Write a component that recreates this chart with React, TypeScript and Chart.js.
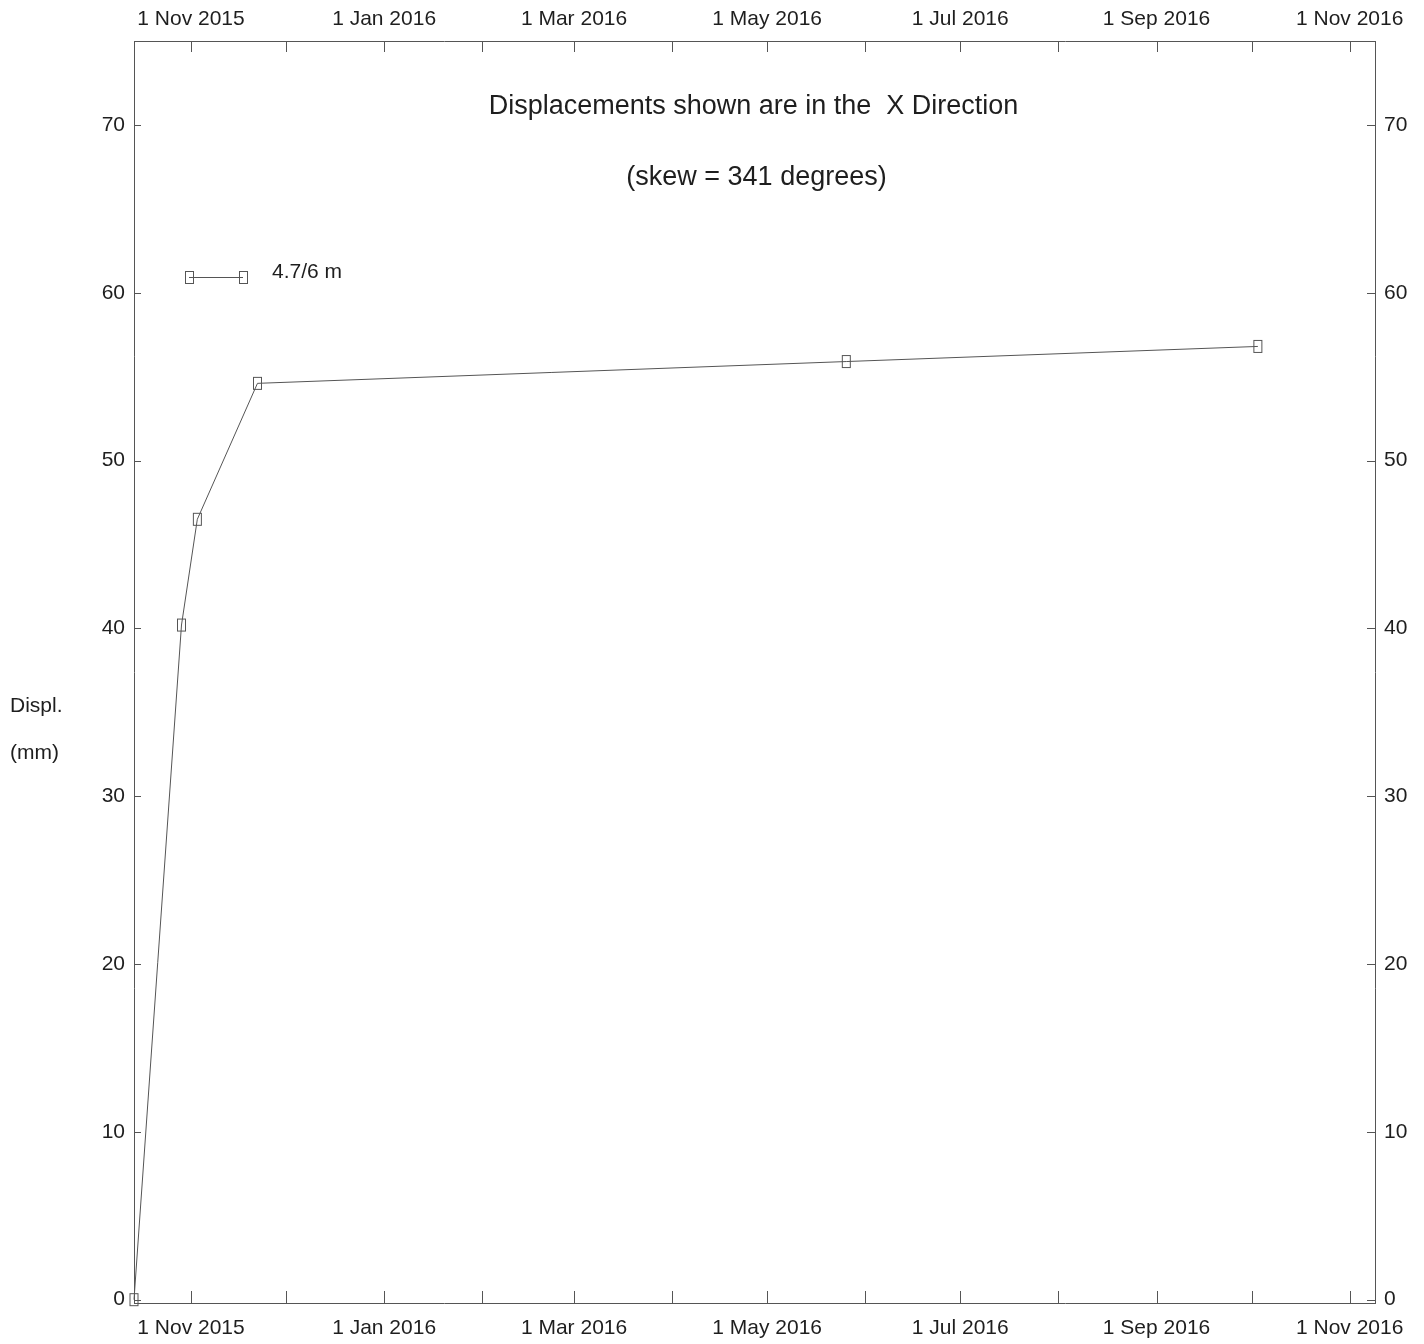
import React, { useEffect, useRef } from "react";
import { Chart, registerables } from "chart.js";

Chart.register(...registerables);

// ---- data ----
const dates: string[] = ["2015-10-14", "2015-10-29", "2015-11-03", "2015-11-22", "2016-05-26", "2016-10-03"];
const displacements: number[] = [0, 40.2, 46.5, 54.6, 55.9, 56.8];
const seriesLabel = "4.7/6 m";
const xMinDate = "2015-10-14";
const xMaxDate = "2016-11-09";
const monthTickDates: string[] = [
  "2015-11-01", "2015-12-01", "2016-01-01", "2016-02-01", "2016-03-01", "2016-04-01",
  "2016-05-01", "2016-06-01", "2016-07-01", "2016-08-01", "2016-09-01", "2016-10-01", "2016-11-01",
];
const yTickValues: number[] = [0, 10, 20, 30, 40, 50, 60, 70];
const yMin = -0.2;
const yMax = 75;
const titleLine1 = "Displacements shown are in the  X Direction";
const titleLine2 = "(skew = 341 degrees)";
const yLabelLine1 = "Displ.";
const yLabelLine2 = "(mm)";
const monthNames = ["Jan", "Feb", "Mar", "Apr", "May", "Jun", "Jul", "Aug", "Sep", "Oct", "Nov", "Dec"];

const DAY = 86400000;
const toDays = (s: string) => Date.parse(s + "T00:00:00Z") / DAY;

const FONT = "'Liberation Sans', Arial, Helvetica, sans-serif";
const TEXT = "#1e1e1e";
const LINE = "#555555";

function fmtTick(v: number): string {
  const d = new Date(Math.round(v) * DAY);
  if (d.getUTCMonth() % 2 !== 0) return "";
  return `${d.getUTCDate()} ${monthNames[d.getUTCMonth()]} ${d.getUTCFullYear()}`;
}

export default function App() {
  const ref = useRef<HTMLCanvasElement | null>(null);

  useEffect(() => {
    if (!ref.current) return;
    const mk = document.createElement("canvas");
    mk.width = 11;
    mk.height = 15;
    const mctx = mk.getContext("2d")!;
    mctx.strokeStyle = LINE;
    mctx.lineWidth = 1;
    mctx.strokeRect(1.5, 1.5, 8, 12);

    const monthTicks = monthTickDates.map(toDays);
    const xTickBuild = (scale: any) => {
      scale.ticks = monthTicks.map((v) => ({ value: v }));
    };
    const yTickBuild = (scale: any) => {
      scale.ticks = yTickValues.map((v) => ({ value: v }));
    };

    const tickMarks = {
      id: "tickMarks",
      afterDraw(chart: any) {
        const ctx = chart.ctx;
        const a = chart.chartArea;
        ctx.save();
        ctx.strokeStyle = LINE;
        ctx.lineWidth = 1;
        ctx.beginPath();
        const sx = chart.scales.x;
        for (const v of monthTicks) {
          const px = Math.round(sx.getPixelForValue(v)) + 0.5;
          ctx.moveTo(px, a.bottom);
          ctx.lineTo(px, a.bottom - 12);
          ctx.moveTo(px, a.top);
          ctx.lineTo(px, a.top + 11);
        }
        const sy = chart.scales.y;
        for (const v of yTickValues) {
          const py = Math.round(sy.getPixelForValue(v)) + 0.5;
          ctx.moveTo(a.left, py);
          ctx.lineTo(a.left + 7, py);
          ctx.moveTo(a.right, py);
          ctx.lineTo(a.right - 8, py);
        }
        ctx.stroke();

        // titles
        ctx.fillStyle = TEXT;
        ctx.textAlign = "center";
        ctx.textBaseline = "middle";
        ctx.font = `27px ${FONT}`;
        const cx = (a.left + a.right) / 2;
        ctx.fillText(titleLine1, cx - 1, a.top + 66);
        ctx.fillText(titleLine2, cx + 2, a.top + 137);

        // y axis label
        ctx.font = `21px ${FONT}`;
        ctx.textAlign = "left";
        ctx.fillText(yLabelLine1, 10, 706);
        ctx.fillText(yLabelLine2, 10, 753);

        // legend
        const lx1 = a.left + 55;
        const lx2 = a.left + 109;
        const ly = a.top + 236;
        ctx.beginPath();
        ctx.strokeStyle = LINE;
        ctx.moveTo(lx1, ly + 0.5);
        ctx.lineTo(lx2, ly + 0.5);
        ctx.stroke();
        ctx.drawImage(mk, Math.round(lx1 - 5.5), Math.round(ly - 7.5));
        ctx.drawImage(mk, Math.round(lx2 - 5.5), Math.round(ly - 7.5));
        ctx.fillText(seriesLabel, a.left + 138, ly - 5);
        ctx.restore();
      },
    };

    const points = dates.map((d, i) => ({ x: toDays(d), y: displacements[i] }));

    const commonX = {
      type: "linear" as const,
      min: toDays(xMinDate),
      max: toDays(xMaxDate),
      afterBuildTicks: xTickBuild,
      grid: { display: true, drawOnChartArea: false, drawTicks: false },
      border: { display: true, color: LINE, width: 1 },
      ticks: {
        autoSkip: false,
        maxRotation: 0,
        minRotation: 0,
        color: TEXT,
        font: { family: FONT, size: 21 },
        callback: (v: any) => fmtTick(Number(v)),
      },
    };
    const commonY = {
      type: "linear" as const,
      min: yMin,
      max: yMax,
      afterBuildTicks: yTickBuild,
      grid: { display: true, drawOnChartArea: false, drawTicks: false },
      border: { display: true, color: LINE, width: 1 },
      ticks: {
        autoSkip: false,
        color: TEXT,
        font: { family: FONT, size: 21 },
        callback: (v: any) => String(v),
      },
    };

    const chart = new Chart(ref.current, {
      type: "line",
      data: {
        datasets: [
          {
            label: seriesLabel,
            data: points,
            borderColor: LINE,
            borderWidth: 1,
            pointStyle: mk as any,
            pointRadius: 6,
            fill: false,
            tension: 0,
            clip: false as any,
          },
        ],
      },
      options: {
        animation: false,
        responsive: false,
        layout: { padding: 0 },
        plugins: { legend: { display: false }, tooltip: { enabled: false }, title: { display: false } },
        scales: {
          x: {
            ...commonX,
            position: "bottom",
            ticks: { ...commonX.ticks, padding: 13 },
            afterFit: (s: any) => { s.height = 41; },
          },
          x2: {
            ...commonX,
            position: "top",
            ticks: { ...commonX.ticks, padding: 9 },
            afterFit: (s: any) => { s.height = 41; },
          },
          y: {
            ...commonY,
            position: "left",
            ticks: { ...commonY.ticks, padding: 9 },
            afterFit: (s: any) => { s.width = 134; },
          },
          y2: {
            ...commonY,
            position: "right",
            ticks: { ...commonY.ticks, padding: 9 },
            afterFit: (s: any) => { s.width = 49; },
          },
        } as any,
      },
      plugins: [tickMarks],
    });
    return () => chart.destroy();
  }, []);

  return (
    <div style={{ position: "absolute", left: 0, top: 0, width: 1424, height: 1344, background: "#fff" }}>
      <canvas ref={ref} width={1424} height={1344} style={{ display: "block", width: 1424, height: 1344 }} />
    </div>
  );
}
